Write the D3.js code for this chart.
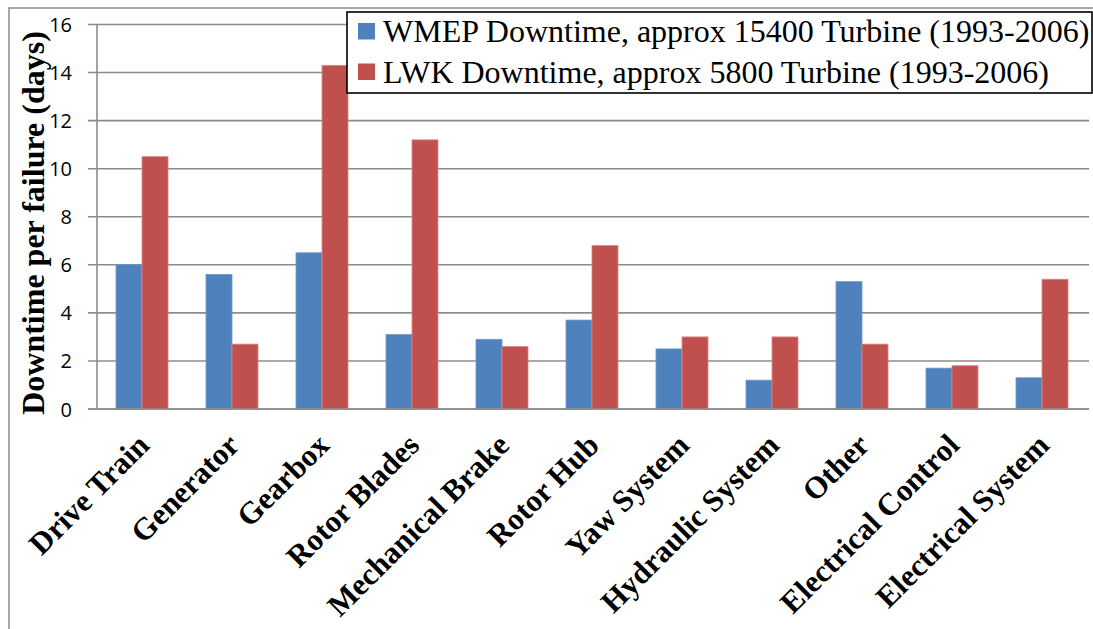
<!DOCTYPE html>
<html>
<head>
<meta charset="utf-8">
<script src="https://cdn.jsdelivr.net/npm/d3@7"></script>
<style>
  html, body { margin: 0; padding: 0; background: #fff; }
  svg { display: block; }
</style>
</head>
<body>
<svg id="chart" width="1093" height="629"></svg>
<script>
// Mean downtime per failure for each wind-turbine subsystem
const categories = ["Drive Train", "Generator", "Gearbox", "Rotor Blades", "Mechanical Brake",
  "Rotor Hub", "Yaw System", "Hydraulic System", "Other", "Electrical Control", "Electrical System"];
const seriesNames = ["WMEP Downtime, approx 15400 Turbine (1993-2006)",
  "LWK Downtime, approx 5800 Turbine (1993-2006)"];
const wmepDowntime = [6.0, 5.6, 6.5, 3.1, 2.9, 3.7, 2.5, 1.2, 5.3, 1.7, 1.3];
const lwkDowntime = [10.5, 2.7, 14.3, 11.2, 2.6, 6.8, 3.0, 3.0, 2.7, 1.8, 5.4];
const yTicks = [0, 2, 4, 6, 8, 10, 12, 14, 16];
const seriesColors = ["#4F81BD", "#C0504D"];
const seriesEdges = ["#6f97c9", "#d98886"];

const serif = "'Liberation Serif', 'Times New Roman', serif";
const svg = d3.select("#chart");
const plot = { left: 97, right: 1087, top: 24.5, bottom: 409 };

// outer chart frame
svg.append("rect")
  .attr("x", 9).attr("y", 8).attr("width", 1100).attr("height", 700)
  .attr("fill", "none").attr("stroke", "#8a8a8a").attr("stroke-width", 1.5);

const y = d3.scaleLinear().domain([0, 16]).range([plot.bottom, plot.top]);
const x0 = d3.scaleBand().domain(categories).range([plot.left, plot.right])
  .paddingInner(38 / 90).paddingOuter(19 / 90);
const x1 = d3.scaleBand().domain([0, 1]).range([0, x0.bandwidth()]);

// horizontal gridlines with left tick stubs
svg.append("g").selectAll("line").data(yTicks).join("line")
  .attr("x1", 88).attr("x2", 1089)
  .attr("y1", d => y(d)).attr("y2", d => y(d))
  .attr("stroke", "#8c8c8c").attr("stroke-width", 1.6);

// y axis line
svg.append("line")
  .attr("x1", plot.left).attr("x2", plot.left)
  .attr("y1", y(16)).attr("y2", y(0))
  .attr("stroke", "#8c8c8c").attr("stroke-width", 1.6);

// y tick labels
svg.append("g").selectAll("text").data(yTicks).join("text")
  .attr("x", 72).attr("y", d => y(d))
  .attr("text-anchor", "end").attr("dominant-baseline", "central")
  .attr("font-family", "'Open Sans', sans-serif").attr("font-size", 20)
  .attr("fill", "#000").text(d => d);

// bars
const rows = categories.map((c, i) => ({ c, vals: [wmepDowntime[i], lwkDowntime[i]] }));
const groups = svg.append("g").selectAll("g").data(rows).join("g")
  .attr("transform", d => `translate(${x0(d.c)},0)`);
groups.selectAll("rect").data(d => d.vals.map((v, s) => ({ v, s }))).join("rect")
  .attr("x", d => x1(d.s)).attr("width", x1.bandwidth())
  .attr("y", d => y(d.v)).attr("height", d => y(0) - y(d.v))
  .attr("fill", d => seriesColors[d.s])
  .attr("stroke", d => seriesEdges[d.s]).attr("stroke-width", 0.8);

// x axis line redrawn over bar bases
svg.append("line")
  .attr("x1", 88).attr("x2", 1089).attr("y1", y(0)).attr("y2", y(0))
  .attr("stroke", "#8c8c8c").attr("stroke-width", 1.6);

// rotated category labels
svg.append("g").selectAll("text").data(categories).join("text")
  .attr("transform", d => `translate(${x0(d) + x0.bandwidth() / 2 + 9},447) rotate(-45)`)
  .attr("text-anchor", "end")
  .attr("font-family", serif)
  .attr("font-weight", "bold").attr("font-size", 31)
  .attr("fill", "#000").text(d => d);

// y axis title
svg.append("text")
  .attr("transform", "translate(44,223) rotate(-90)")
  .attr("text-anchor", "middle")
  .attr("font-family", serif)
  .attr("font-weight", "bold").attr("font-size", 32)
  .attr("fill", "#000").text("Downtime per failure (days)");

// legend
const legend = svg.append("g");
legend.append("rect")
  .attr("x", 347).attr("y", 12).attr("width", 745).attr("height", 81)
  .attr("fill", "#fff").attr("stroke", "#000").attr("stroke-width", 1.6);
const items = legend.selectAll("g.item").data(seriesNames).join("g")
  .attr("class", "item")
  .attr("transform", (d, i) => `translate(0,${i * 40.5})`);
items.append("rect")
  .attr("x", 358).attr("y", 23).attr("width", 17).attr("height", 16.5)
  .attr("fill", (d, i) => seriesColors[i]);
items.append("text")
  .attr("x", 383).attr("y", 42)
  .attr("font-family", serif)
  .attr("font-size", 32).attr("fill", "#000").text(d => d);
</script>
</body>
</html>
